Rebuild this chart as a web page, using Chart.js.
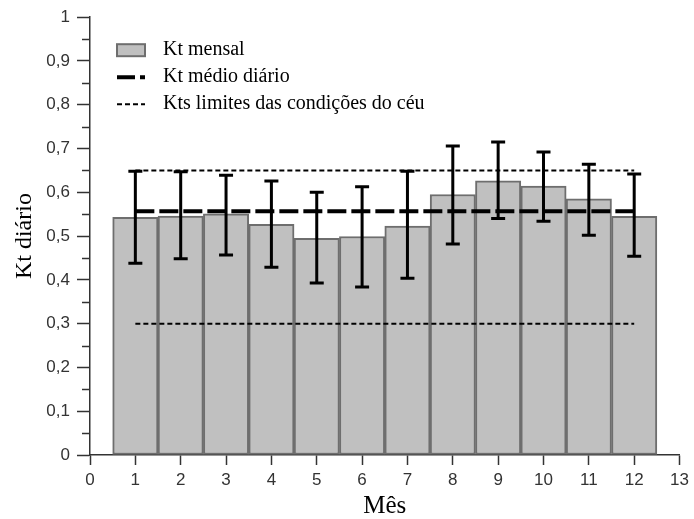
<!DOCTYPE html>
<html>
<head>
<meta charset="utf-8">
<script src="https://cdn.jsdelivr.net/npm/chart.js@4"></script>
<style>
  html, body { margin: 0; padding: 0; background: #fff; }
  canvas { display: block; }
</style>
</head>
<body>
<canvas id="ktChart" width="694" height="519"></canvas>
<script>
// monthly values
var months = [1, 2, 3, 4, 5, 6, 7, 8, 9, 10, 11, 12];
var ktMensal = [0.543, 0.546, 0.551, 0.527, 0.495, 0.499, 0.523, 0.595, 0.626, 0.614, 0.585, 0.545];
var errTop = [0.648, 0.647, 0.639, 0.626, 0.600, 0.613, 0.648, 0.706, 0.715, 0.692, 0.664, 0.642];
var errBottom = [0.438, 0.448, 0.457, 0.429, 0.393, 0.384, 0.404, 0.482, 0.540, 0.534, 0.502, 0.454];
var ktMedio = 0.557;
var ktLimites = [0.65, 0.30];
var lineStart = 1, lineEnd = 12;
var legendLabels = ['Kt mensal', 'Kt médio diário', 'Kts limites das condições do céu'];

var serif = '"Liberation Serif", "Times New Roman", serif';
var sans = '"Liberation Sans", Arial, sans-serif';

function fmt(v) {
    var r = Math.round(v * 10) / 10;
    if (r === 0 || r === 1) return String(r);
    return r.toFixed(1).replace('.', ',');
}

// error bars drawn on top of everything
var errorBars = {
    id: 'errorBars',
    afterDatasetsDraw: function(chart) {
        var ctx = chart.ctx, xs = chart.scales.x, ys = chart.scales.y;
        ctx.save();
        ctx.strokeStyle = '#000';
        ctx.lineWidth = 3;
        for (var i = 0; i < months.length; i++) {
            var x = xs.getPixelForValue(months[i]);
            var yt = ys.getPixelForValue(errTop[i]);
            var yb = ys.getPixelForValue(errBottom[i]);
            ctx.beginPath();
            ctx.moveTo(x, yt); ctx.lineTo(x, yb);
            ctx.moveTo(x - 7, yt); ctx.lineTo(x + 7, yt);
            ctx.moveTo(x - 7, yb); ctx.lineTo(x + 7, yb);
            ctx.stroke();
        }
        ctx.restore();
    }
};

// minor ticks on the y axis (every 0.05)
var minorTicks = {
    id: 'minorTicks',
    afterDraw: function(chart) {
        var ctx = chart.ctx, ys = chart.scales.y;
        var left = chart.chartArea.left;
        ctx.save();
        ctx.strokeStyle = '#333';
        ctx.lineWidth = 1.5;
        for (var v = 0.05; v < 1; v += 0.1) {
            var y = Math.round(ys.getPixelForValue(v)) + 0.5;
            ctx.beginPath();
            ctx.moveTo(left - 8, y); ctx.lineTo(left, y);
            ctx.stroke();
        }
        ctx.restore();
    }
};

// legend in the upper-left of the plot
var boxLegend = {
    id: 'boxLegend',
    afterDraw: function(chart) {
        var ctx = chart.ctx, a = chart.chartArea;
        var x0 = a.left + 27, w = 28, tx = a.left + 73;
        var rows = [a.top + 33, a.top + 60, a.top + 87];
        ctx.save();
        // bar swatch
        ctx.fillStyle = '#c0c0c0';
        ctx.strokeStyle = '#6e6e6e';
        ctx.lineWidth = 2;
        ctx.fillRect(x0, rows[0] - 6, w, 12);
        ctx.strokeRect(x0, rows[0] - 6, w, 12);
        // mean line swatch
        ctx.strokeStyle = '#000';
        ctx.lineWidth = 4;
        ctx.setLineDash([18, 5]);
        ctx.beginPath(); ctx.moveTo(x0, rows[1]); ctx.lineTo(x0 + w, rows[1]); ctx.stroke();
        // limits swatch
        ctx.lineWidth = 2;
        ctx.setLineDash([5, 3]);
        ctx.beginPath(); ctx.moveTo(x0, rows[2]); ctx.lineTo(x0 + w, rows[2]); ctx.stroke();
        ctx.setLineDash([]);
        ctx.fillStyle = '#000';
        ctx.font = '20px ' + serif;
        ctx.textBaseline = 'middle';
        for (var i = 0; i < legendLabels.length; i++) {
            ctx.fillText(legendLabels[i], tx, rows[i]);
        }
        ctx.restore();
    }
};

var ctx = document.getElementById('ktChart').getContext('2d');
var chart = new Chart(ctx, {
    type: 'bar',
    data: {
        datasets: [{
            type: 'line',
            label: legendLabels[1],
            data: [{x: lineStart, y: ktMedio}, {x: lineEnd, y: ktMedio}],
            borderColor: '#000',
            borderWidth: 4,
            borderDash: [19, 5],
            pointRadius: 0,
            fill: false,
            order: 0
        }, {
            type: 'line',
            label: legendLabels[2],
            data: [{x: lineStart, y: ktLimites[0]}, {x: lineEnd, y: ktLimites[0]}],
            borderColor: '#000',
            borderWidth: 2,
            borderDash: [5, 3],
            pointRadius: 0,
            fill: false,
            order: 0
        }, {
            type: 'line',
            label: legendLabels[2] + ' (inf.)',
            data: [{x: lineStart, y: ktLimites[1]}, {x: lineEnd, y: ktLimites[1]}],
            borderColor: '#000',
            borderWidth: 2,
            borderDash: [5, 3],
            pointRadius: 0,
            fill: false,
            order: 0
        }, {
            label: legendLabels[0],
            data: months.map(function(m, i) { return {x: m, y: ktMensal[i]}; }),
            backgroundColor: '#c0c0c0',
            borderColor: '#6e6e6e',
            borderWidth: 2,
            borderSkipped: false,
            barPercentage: 1,
            categoryPercentage: 1,
            order: 1
        }]
    },
    options: {
        responsive: false,
        animation: false,
        layout: { padding: { top: 16, right: 13, left: 0, bottom: 0 } },
        plugins: {
            legend: { display: false },
            tooltip: { enabled: false }
        },
        scales: {
            x: {
                type: 'linear',
                min: 0,
                max: 13,
                offset: false,
                afterFit: function(scale) { scale.height = 64; },
                ticks: {
                    stepSize: 1,
                    padding: 5,
                    color: '#333',
                    font: { family: sans, size: 17 }
                },
                grid: {
                    drawOnChartArea: false,
                    offset: false,
                    tickLength: 10,
                    tickWidth: 1.5,
                    tickColor: '#333'
                },
                border: { color: '#333', width: 1.5 },
                title: {
                    display: true,
                    text: 'Mês',
                    color: '#000',
                    padding: { top: 0, bottom: 0 },
                    font: { family: serif, size: 25, lineHeight: 1.0 }
                }
            },
            y: {
                min: 0,
                max: 1,
                afterFit: function(scale) { scale.width = 90; },
                ticks: {
                    stepSize: 0.1,
                    padding: 7,
                    color: '#333',
                    font: { family: sans, size: 17 },
                    callback: function(value) { return fmt(value); }
                },
                grid: {
                    drawOnChartArea: false,
                    tickLength: 13,
                    tickWidth: 1.5,
                    tickColor: '#333'
                },
                border: { color: '#333', width: 1.5 },
                title: {
                    display: true,
                    text: 'Kt diário',
                    color: '#000',
                    padding: { top: 12, bottom: 0 },
                    font: { family: serif, size: 24, lineHeight: 1.1 }
                }
            }
        }
    },
    plugins: [errorBars, minorTicks, boxLegend]
});
</script>
</body>
</html>
